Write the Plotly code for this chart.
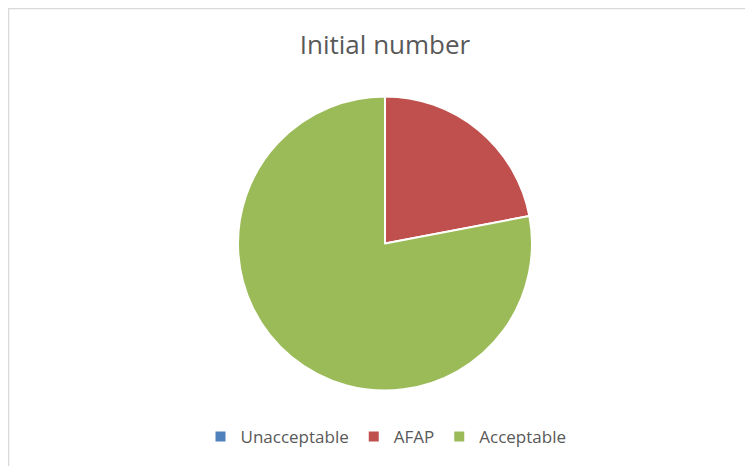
import plotly.graph_objects as go

labels = ["Unacceptable", "AFAP", "Acceptable"]
values = [0, 11, 39]
colors = ["#4F81BD", "#C0504D", "#9BBB59"]

W, H = 753, 466
OFF = 8  # page body margin shifts the figure by 8px

fig = go.Figure()

fig.add_trace(go.Pie(
    labels=labels,
    values=values,
    sort=False,
    direction="clockwise",
    rotation=0,
    textinfo="none",
    hoverinfo="label+value+percent",
    marker=dict(colors=colors, line=dict(color="white", width=2)),
    domain=dict(x=[(238 - OFF) / W, (532 - OFF) / W],
                y=[(H - 391 + OFF) / H, (H - 96 + OFF) / H]),
))

# chart area frame
fig.add_shape(type="rect", xref="paper", yref="paper",
              x0=0.5 / W, x1=1.01, y0=-0.01, y1=(H - 0.5) / H,
              line=dict(color="#D9D9D9", width=1.5))

fig.update_layout(
    width=W, height=H,
    margin=dict(l=0, r=0, t=0, b=0),
    paper_bgcolor="white",
    plot_bgcolor="white",
    font=dict(family="Open Sans, Noto Sans, sans-serif", color="#595959"),
    title=dict(text="Initial number", x=(385 - OFF) / W, xanchor="center",
               y=(H - 45 + OFF) / H, yanchor="middle",
               font=dict(size=26, color="#595959")),
    legend=dict(orientation="h", x=(386 - OFF) / W, xanchor="center",
                y=(H - 437 + OFF) / H, yanchor="middle",
                font=dict(size=17, color="#595959"),
                itemwidth=30, tracegroupgap=0),
)

fig.write_html("out.html")
